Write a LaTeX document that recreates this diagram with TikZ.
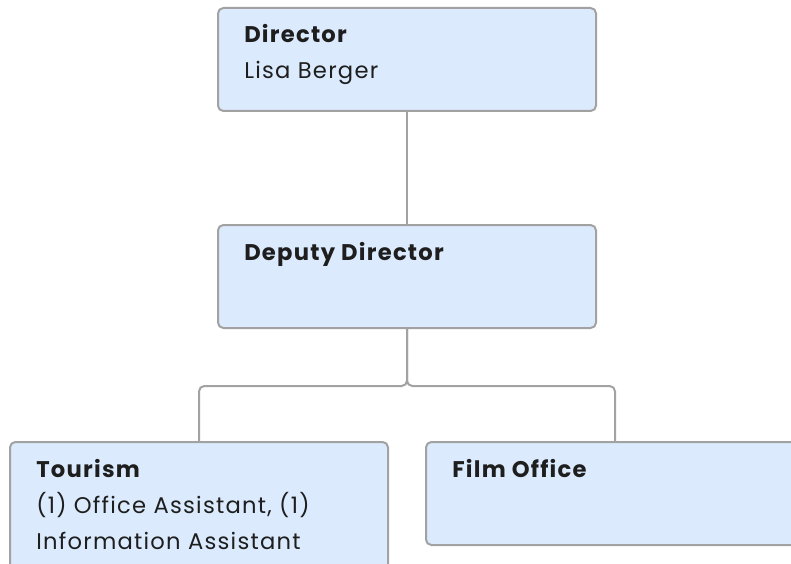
\documentclass[tikz,border=0pt]{standalone}
\usepackage{fontspec}
\setmainfont{Poppins}[LetterSpace=5.5]
\usepackage{tikz}
\usetikzlibrary{positioning}
\definecolor{boxfill}{HTML}{DBEBFD}
\definecolor{boxline}{HTML}{A2A2A2}
\definecolor{ink}{HTML}{1E1E1E}

\begin{document}
\begin{tikzpicture}[x=0.75pt,y=-0.75pt,
    unit/.style={draw=boxline,fill=boxfill,line width=1.5pt,rounded corners=4pt,
      minimum width=283.5pt,minimum height=77.25pt,inner sep=0,anchor=north west},
    head/.style={anchor=base west,inner sep=0,text=ink,font=\fontsize{17}{27}\selectfont\bfseries},
    staff/.style={anchor=base west,inner sep=0,text=ink,font=\fontsize{17}{27}\selectfont},
    conn/.style={draw=boxline,line width=1.5pt,rounded corners=4pt}]
      \useasboundingbox (0,0) rectangle (791,563);
      \clip (0,0) rectangle (791,563);
      % the four units
      \node[unit] (dir) at (217,7) {};
      \node[unit] (dep) at (217,224) {};
      \node[unit,minimum height=105pt] (tour) at (9,441) {};
      \node[unit] (film) at (425,441) {};
      % titles and staff
      \node[head] (dirhead) at (244,43) {Director};
      \node[staff] (dirname) at (244,79) {Lisa Berger};
      \node[head] (dephead) at (244,260) {Deputy Director};
      \node[head] (tourhead) at (36,477) {Tourism};
      \node[staff] (tourstaff) at (36,513) {(1) Office Assistant, (1)};
      \node[staff] (tourstaff2) at (36,549) {Information Assistant};
      \node[head] (filmhead) at (452,477) {Film Office};
      % reporting lines
      \path (dep.south) ++(0,57) coordinate (split);
      \draw[conn] (dir.south) -- (dep.north);
      \draw[conn] (dep.south) -- (split) -| (tour.north);
      \draw[conn] (dep.south) -- (split) -| (film.north);
\end{tikzpicture}
\end{document}
